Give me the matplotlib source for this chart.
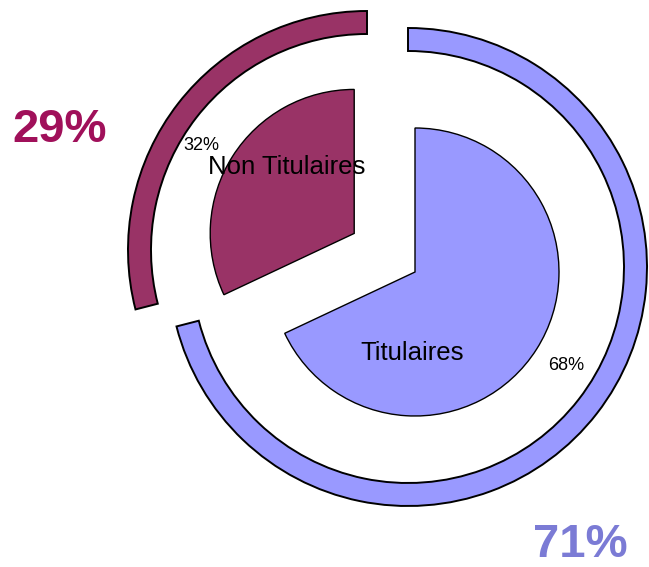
import matplotlib.pyplot as plt

plt.rcParams['font.family'] = ['Liberation Sans', 'DejaVu Sans']

categories = ['Titulaires', 'Non Titulaires']
inner_pct = [68, 32]
outer_pct = [71, 29]
colors = ['#9999FF', '#993366']
big_colors = ['#7B7BD5', '#A0105A']

H = 567
fig = plt.figure(figsize=(6.49, 5.67), dpi=100)
ax = fig.add_axes([0, 0, 1, 1])

# outer ring
ring, _ = ax.pie(outer_pct, colors=colors, startangle=90, counterclock=False,
                 center=(408, H - 267), radius=239,
                 wedgeprops=dict(width=23, edgecolor='black', linewidth=1.4),
                 frame=True)
# pull the small ring piece up and to the left
ring[1].set_center((367, H - 250))

# inner pie
ax.pie(inner_pct, colors=colors, startangle=90, counterclock=False,
       center=(415, H - 272), radius=144, explode=[0, 72],
       wedgeprops=dict(edgecolor='black', linewidth=1),
       frame=True)
ax.set_xlim(0, 649)
ax.set_ylim(0, H)
ax.set_aspect('equal')
ax.axis('off')

# slice labels
ax.text(412, H - 353, categories[0], fontsize=18.5, ha='center', va='center')
ax.text(287, H - 167, categories[1], fontsize=18.5, ha='center', va='center')
ax.text(566, H - 366, f'{inner_pct[0]}%', fontsize=13, ha='center', va='center')
ax.text(201, H - 145, f'{inner_pct[1]}%', fontsize=13, ha='center', va='center')

# outer ring values
ax.text(580, H - 545, f'{outer_pct[0]}%', fontsize=34, fontweight='bold',
        color=big_colors[0], ha='center', va='center')
ax.text(60, H - 130, f'{outer_pct[1]}%', fontsize=34, fontweight='bold',
        color=big_colors[1], ha='center', va='center')

fig.savefig('out.png', dpi=100)
